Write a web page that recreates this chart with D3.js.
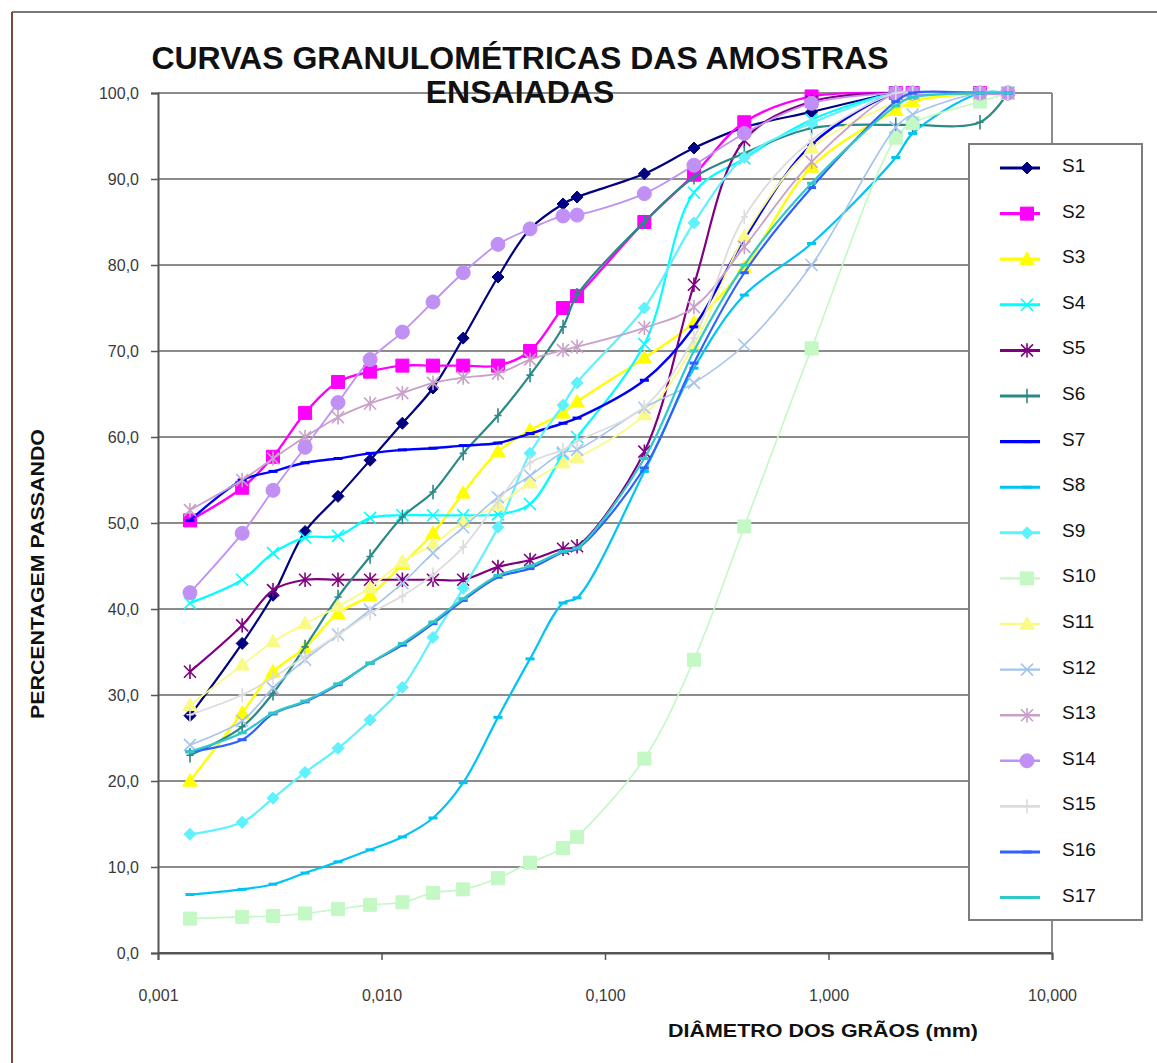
<!DOCTYPE html>
<html><head><meta charset="utf-8">
<script src="https://cdn.jsdelivr.net/npm/d3@7"></script>
<style>body{margin:0;background:#fff}svg{display:block;font-family:Arial,"Liberation Sans",sans-serif}</style>
</head><body><svg id="c" width="1157" height="1063"></svg>
<script>
// ---------- data ----------
const diameters = [0.00139, 0.00238, 0.00327, 0.00455, 0.00639, 0.00889, 0.0124, 0.0170, 0.0232, 0.0332, 0.0462, 0.0649, 0.075, 0.15, 0.25, 0.42, 0.84, 2.0, 2.38, 4.76, 6.35];
const S1  = [27.6, 36.0, 41.6, 49.0, 53.1, 57.3, 61.6, 65.7, 71.5, 78.6, 84.2, 87.1, 87.9, 90.6, 93.6, 96.0, 97.8, 100, 100, 100, 100];
const S2  = [50.3, 54.1, 57.7, 62.8, 66.4, 67.6, 68.3, 68.3, 68.3, 68.3, 70.0, 75.0, 76.4, 85.0, 90.5, 96.6, 99.6, 100, 100, 100, 100];
const S3  = [20.0, 27.9, 32.7, 35.5, 39.5, 41.6, 45.2, 48.8, 53.5, 58.3, 60.8, 62.8, 64.1, 69.2, 73.3, 79.7, 91.4, 98.0, 99.0, 100, 100];
const S4  = [40.7, 43.4, 46.5, 48.3, 48.5, 50.6, 50.9, 50.9, 50.9, 51.0, 52.2, 58.0, 60.0, 70.8, 88.4, 92.4, 96.9, 100, 100, 100, 100];
const S5  = [32.7, 38.1, 42.2, 43.4, 43.4, 43.4, 43.4, 43.4, 43.4, 44.9, 45.7, 47.0, 47.3, 58.3, 77.7, 94.5, 99.0, 100, 100, 100, 100];
const S6  = [23.0, 26.3, 30.2, 35.6, 41.4, 46.1, 50.7, 53.6, 58.1, 62.5, 67.2, 72.8, 76.5, 85.0, 90.2, 93.0, 95.9, 96.3, 96.3, 96.6, 100];
const S7  = [50.3, 55.0, 56.0, 57.0, 57.5, 58.1, 58.5, 58.7, 59.0, 59.3, 60.4, 61.6, 62.2, 66.6, 72.8, 83.0, 94.0, 100, 100, 100, 100];
const S8  = [6.8, 7.4, 8.0, 9.3, 10.6, 12.0, 13.5, 15.7, 19.8, 27.4, 34.2, 40.7, 41.3, 56.0, 68.0, 76.5, 82.5, 92.5, 95.3, 100, 100];
const S9  = [13.8, 15.2, 18.0, 21.0, 23.8, 27.1, 30.9, 36.7, 42.4, 49.5, 58.1, 63.7, 66.3, 75.0, 84.9, 92.5, 96.5, 100, 100, 100, 100];
const S10 = [4.0, 4.2, 4.3, 4.6, 5.1, 5.6, 5.9, 7.0, 7.4, 8.7, 10.5, 12.2, 13.5, 22.6, 34.1, 49.6, 70.3, 94.8, 96.5, 99.0, 100];
const S11 = [28.8, 33.5, 36.2, 38.3, 40.3, 42.5, 45.5, 47.5, 50.1, 52.1, 54.7, 57.0, 57.6, 62.6, 70.7, 83.3, 93.6, 99.0, 100, 100, 100];
const S12 = [24.2, 27.0, 30.8, 34.1, 37.0, 39.9, 43.0, 46.5, 49.5, 53.0, 55.5, 58.2, 58.5, 63.4, 66.3, 70.7, 80.0, 96.0, 97.5, 100, 100];
const S13 = [51.5, 55.0, 57.5, 60.0, 62.3, 63.9, 65.1, 66.3, 66.9, 67.4, 69.0, 70.1, 70.5, 72.7, 75.1, 82.1, 92.0, 100, 100, 100, 100];
const S14 = [41.9, 48.8, 53.8, 58.8, 64.0, 69.0, 72.2, 75.7, 79.1, 82.4, 84.2, 85.7, 85.8, 88.3, 91.6, 95.3, 98.8, 100, 100, 100, 100];
const S15 = [27.7, 30.0, 32.0, 34.5, 37.0, 39.5, 41.5, 44.0, 47.2, 52.5, 57.0, 58.5, 59.5, 63.5, 71.5, 85.6, 94.5, 100, 100, 100, 100];
const S16 = [23.4, 24.8, 27.8, 29.2, 31.2, 33.7, 35.8, 38.3, 41.0, 43.7, 44.7, 46.6, 47.0, 56.4, 68.6, 79.1, 89.0, 99.0, 100, 100, 100];
const S17 = [23.4, 25.6, 27.9, 29.3, 31.3, 33.7, 36.0, 38.5, 41.2, 43.9, 45.0, 46.7, 47.1, 57.5, 70.0, 80.0, 89.5, 98.5, 99.5, 100, 100];

const seriesNames  = ["S1","S2","S3","S4","S5","S6","S7","S8","S9","S10","S11","S12","S13","S14","S15","S16","S17"];
const seriesValues = [S1,S2,S3,S4,S5,S6,S7,S8,S9,S10,S11,S12,S13,S14,S15,S16,S17];
const seriesColors = ["#000080","#FF00FF","#FFFF00","#00FFFF","#800080","#2A8A86","#0000FF","#00C4F4","#5EF2FF","#C4F8C4","#FAFA86","#A4C4EE","#C8A0C8","#C090F4","#DCDCDC","#3060FF","#30C8C8"];
const seriesMarkers = ["diamond","square","triangle","x","star","plus","dash","dash","diamond","square","triangle","x","star","circle","plus","dash","dash"];
const seriesWidths = [2.2,2.4,2.4,2.2,2.2,2.2,2.4,2.2,2.2,1.6,1.8,1.6,1.8,1.8,1.8,2.2,2.2];

const yTicks = [0,10,20,30,40,50,60,70,80,90,100];
const xTicks = [0.001,0.01,0.1,1,10];
const titleLines = ["CURVAS GRANULOMÉTRICAS DAS AMOSTRAS","ENSAIADAS"];
const xLabel = "DIÂMETRO DOS GRÃOS (mm)";
const yLabel = "PERCENTAGEM PASSANDO";

// ---------- layout ----------
const svg = d3.select("#c");
const L = 158, R = 1052, T = 93, B = 953;
const x = d3.scaleLog().domain([0.001,10]).range([L,R]);
const y = d3.scaleLinear().domain([0,100]).range([B,T]);
const comma = s => s.replace(".", ",");

// outer frame
svg.append("line").attr("x1",12).attr("x2",1157).attr("y1",12).attr("y2",12).attr("stroke","#7a7a7a").attr("stroke-width",2);
svg.append("line").attr("x1",12).attr("x2",12).attr("y1",12).attr("y2",1063).attr("stroke","#7a4838").attr("stroke-width",2);

// gridlines
svg.append("g").selectAll("line").data(yTicks).join("line")
  .attr("x1",L).attr("x2",R).attr("y1",d=>y(d)).attr("y2",d=>y(d))
  .attr("stroke",d=>d===0?"#555":"#8c8c8c").attr("stroke-width",2);
// right border
svg.append("line").attr("x1",R).attr("x2",R).attr("y1",T).attr("y2",B).attr("stroke","#8c8c8c").attr("stroke-width",2);

// axes
const yAxis = d3.axisLeft(y).tickValues(yTicks).tickSize(7).tickPadding(12).tickFormat(d=>comma(d3.format(".1f")(d)));
const gy = svg.append("g").attr("transform",`translate(${L},0)`).call(yAxis);
const xAxis = d3.axisBottom(x).tickValues(xTicks).tickSize(7).tickPadding(30).tickFormat(d=>comma(d3.format(".3f")(d)));
const gx = svg.append("g").attr("transform",`translate(0,${B})`).call(xAxis);
[gy,gx].forEach(g=>{
  g.select(".domain").attr("stroke","#555").attr("stroke-width",2);
  g.selectAll(".tick line").attr("stroke","#555").attr("stroke-width",1.5);
  g.selectAll(".tick text").attr("fill","#3a3a3a").style("font-size","16px").style("font-family","Arial, 'Liberation Sans', sans-serif");
});

// markers
function markerPath(type, s){
  switch(type){
    case "diamond": return `M0,${-s}L${s},0L0,${s}L${-s},0Z`;
    case "square": return `M${-s},${-s}H${s}V${s}H${-s}Z`;
    case "triangle": return `M0,${-s*1.1}L${s*1.1},${s*0.8}L${-s*1.1},${s*0.8}Z`;
    case "x": return `M${-s},${-s}L${s},${s}M${-s},${s}L${s},${-s}`;
    case "star": return `M${-s},${-s}L${s},${s}M${-s},${s}L${s},${-s}M0,${-s*1.2}V${s*1.2}`;
    case "plus": return `M0,${-s*1.2}V${s*1.2}M${-s*0.6},0H${s*0.6}`;
    case "dash": return `M${-s},0H${s}`;
    case "circle": return d3.symbol(d3.symbolCircle, Math.PI*s*s)();
  }
}
const markerSize = {diamond:6,square:6.5,triangle:6.5,x:6,star:6,plus:6,dash:4.5,circle:7};
const filled = t => ["diamond","square","triangle","circle"].includes(t);

const line = d3.line().x(d=>x(d[0])).y(d=>y(d[1])).curve(d3.curveCatmullRom.alpha(0.5));

const plot = svg.append("g");
seriesValues.forEach((vals,i)=>{
  const pts = diameters.map((d,j)=>[d,vals[j]]);
  const g = plot.append("g");
  g.append("path").attr("d",line(pts)).attr("fill","none")
    .attr("stroke",seriesColors[i]).attr("stroke-width",seriesWidths[i]);
  const t = seriesMarkers[i];
  g.selectAll("path.m").data(pts).join("path").attr("class","m")
    .attr("transform",d=>`translate(${x(d[0])},${y(d[1])})`)
    .attr("d",markerPath(t, markerSize[t]))
    .attr("fill",filled(t)?seriesColors[i]:"none")
    .attr("stroke",seriesColors[i]).attr("stroke-width",filled(t)?1:(t==="dash"?3:1.6));
});

// title
svg.append("text").attr("x",520).attr("y",69).attr("text-anchor","middle")
  .style("font-size","32px").style("font-weight","bold").attr("fill","#111").text(titleLines[0]);
svg.append("text").attr("x",520).attr("y",103).attr("text-anchor","middle")
  .style("font-size","32px").style("font-weight","bold").attr("fill","#111").text(titleLines[1]);

// axis titles
svg.append("text").attr("transform","translate(44,574) rotate(-90)").attr("text-anchor","middle")
  .attr("textLength",290).attr("lengthAdjust","spacingAndGlyphs")
  .style("font-size","19px").style("font-weight","bold").attr("fill","#111").text(yLabel);
svg.append("text").attr("x",823).attr("y",1037).attr("text-anchor","middle")
  .attr("textLength",310).attr("lengthAdjust","spacingAndGlyphs")
  .style("font-size","19px").style("font-weight","bold").attr("fill","#111").text(xLabel);

// legend
const lg = svg.append("g");
lg.append("rect").attr("x",969).attr("y",144).attr("width",173).attr("height",776)
  .attr("fill","#fff").attr("stroke","#7d7d7d").attr("stroke-width",2);
seriesNames.forEach((n,i)=>{
  const yy = 168 + i*45.6;
  const t = seriesMarkers[i];
  lg.append("line").attr("x1",1000).attr("x2",1040).attr("y1",yy).attr("y2",yy)
    .attr("stroke",seriesColors[i]).attr("stroke-width",seriesWidths[i]+0.8);
  lg.append("path").attr("transform",`translate(1027,${yy})`).attr("d",markerPath(t, markerSize[t]))
    .attr("fill",filled(t)?seriesColors[i]:"none").attr("stroke",seriesColors[i])
    .attr("stroke-width",filled(t)?1:(t==="dash"?3:1.6));
  lg.append("text").attr("x",1062).attr("y",yy+4).style("font-size","19px").attr("fill","#111").text(n);
});
</script></body></html>
